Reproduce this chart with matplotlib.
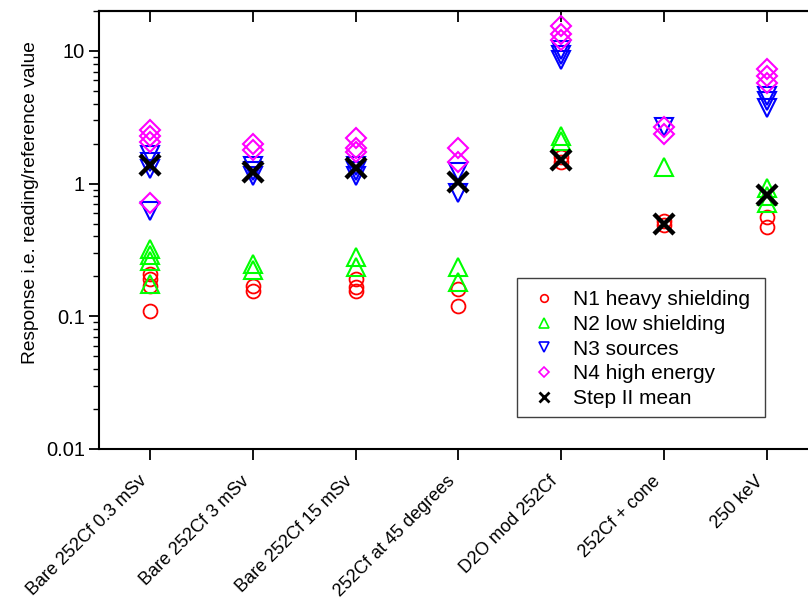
import matplotlib
matplotlib.use("Agg")
import matplotlib.pyplot as plt
from matplotlib.patches import Rectangle
from matplotlib.ticker import FixedLocator, FixedFormatter, LogLocator, NullFormatter

plt.rcParams['font.family'] = ['Liberation Sans', 'DejaVu Sans']

# Irradiation conditions along the x axis
categories = ['Bare 252Cf 0.3 mSv', 'Bare 252Cf 3 mSv', 'Bare 252Cf 15 mSv',
              '252Cf at 45 degrees', 'D2O mod 252Cf', '252Cf + cone', '250 keV']

# Individual responses per condition (one inner list per category)
n1_heavy = [[0.21, 0.19, 0.17, 0.11], [0.17, 0.155], [0.19, 0.165, 0.155],
            [0.16, 0.12], [1.6, 1.45], [0.52, 0.49], [0.56, 0.47]]
n2_low = [[0.32, 0.29, 0.26, 0.175], [0.25, 0.225], [0.28, 0.235],
          [0.235, 0.18], [2.3, 2.1], [1.33], [0.92, 0.8, 0.72]]
n3_sources = [[1.65, 1.45, 1.3, 0.62], [1.35, 1.25, 1.15], [1.35, 1.25, 1.15],
              [1.22, 0.85], [10.2, 9.3, 8.6], [2.65], [4.6, 4.2, 3.7]]
n4_high = [[2.55, 2.3, 2.05, 0.71], [2.0, 1.78], [2.2, 1.85, 1.72],
           [1.85, 1.45], [15.5, 13.5, 12.0], [2.65, 2.35], [7.3, 6.5, 5.7]]
step2_mean = [1.37, 1.22, 1.32, 1.03, 1.5, 0.5, 0.82]

positions = list(range(1, len(categories) + 1))


def flatten(groups):
    xs, ys = [], []
    for pos, vals in zip(positions, groups):
        xs += [pos] * len(vals)
        ys += vals
    return xs, ys


fig = plt.figure(figsize=(8.08, 6.02), dpi=100)
ax = fig.add_axes([0.1225, 0.2542, 0.8899, 0.7275])

series = [
    (n1_heavy, 'o', 'red', 10, 1.3, 'N1 heavy shielding'),
    (n2_low, '^', '#00ff00', 13, 1.5, 'N2 low shielding'),
    (n3_sources, 'v', 'blue', 13, 1.5, 'N3 sources'),
    (n4_high, 'D', 'magenta', 10, 1.5, 'N4 high energy'),
]
for groups, marker, color, ms, mew, label in series:
    xs, ys = flatten(groups)
    ax.plot(xs, ys, linestyle='none', marker=marker, markersize=ms,
            markerfacecolor='none', markeredgecolor=color, markeredgewidth=mew,
            label=label)

ax.plot(positions, step2_mean, linestyle='none', marker='x', markersize=14,
        markeredgecolor='black', markeredgewidth=3.2, label='Step II mean')

ax.set_yscale('log')
ax.set_ylim(0.01, 20)
ax.set_xlim(0.5, 7.5)

ax.yaxis.set_major_locator(FixedLocator([0.01, 0.1, 1, 10]))
ax.yaxis.set_major_formatter(FixedFormatter(['0.01', '0.1', '1', '10']))
ax.yaxis.set_minor_locator(LogLocator(base=10, subs=range(2, 10)))
ax.yaxis.set_minor_formatter(NullFormatter())

ax.set_xticks(positions)
ax.set_xticklabels(categories, rotation=45, ha='right')

ax.tick_params(axis='y', which='major', direction='out', length=7, width=1.3,
               labelsize=14.5, pad=3)
ax.tick_params(axis='y', which='minor', direction='out', length=4, width=1.0)
ax.tick_params(axis='x', which='major', direction='out', length=8, width=1.3,
               labelsize=13, pad=9)

# top ticks point inward at each category
top = ax.secondary_xaxis('top')
top.set_xticks(positions)
top.set_xticklabels([])
top.tick_params(direction='in', length=8, width=1.3)
top.spines['top'].set_linewidth(1.5)

for side in ['left', 'bottom', 'top', 'right']:
    ax.spines[side].set_linewidth(1.5)

ax.set_ylabel('Response i.e. reading/reference value', fontsize=13.8)
ax.yaxis.set_label_coords(-0.084, 0.562)

leg = ax.legend(loc='upper left', bbox_to_anchor=(534 / 808, 1 - 290 / 602),
                bbox_transform=fig.transFigure, fontsize=15, markerscale=0.55,
                frameon=False, labelspacing=0.28, handlelength=1.0,
                handletextpad=0.85, borderpad=0, borderaxespad=0)
for handle in leg.legend_handles:
    handle.set_markeredgewidth(1.2)
leg.legend_handles[-1].set_markeredgewidth(2.0)

# legend frame
fig.patches.append(Rectangle((517 / 808, 1 - 417 / 602), 248 / 808, 139 / 602,
                             transform=fig.transFigure, fill=False,
                             edgecolor='#404040', linewidth=1.0, zorder=5))

fig.savefig('out.png', dpi=100)
